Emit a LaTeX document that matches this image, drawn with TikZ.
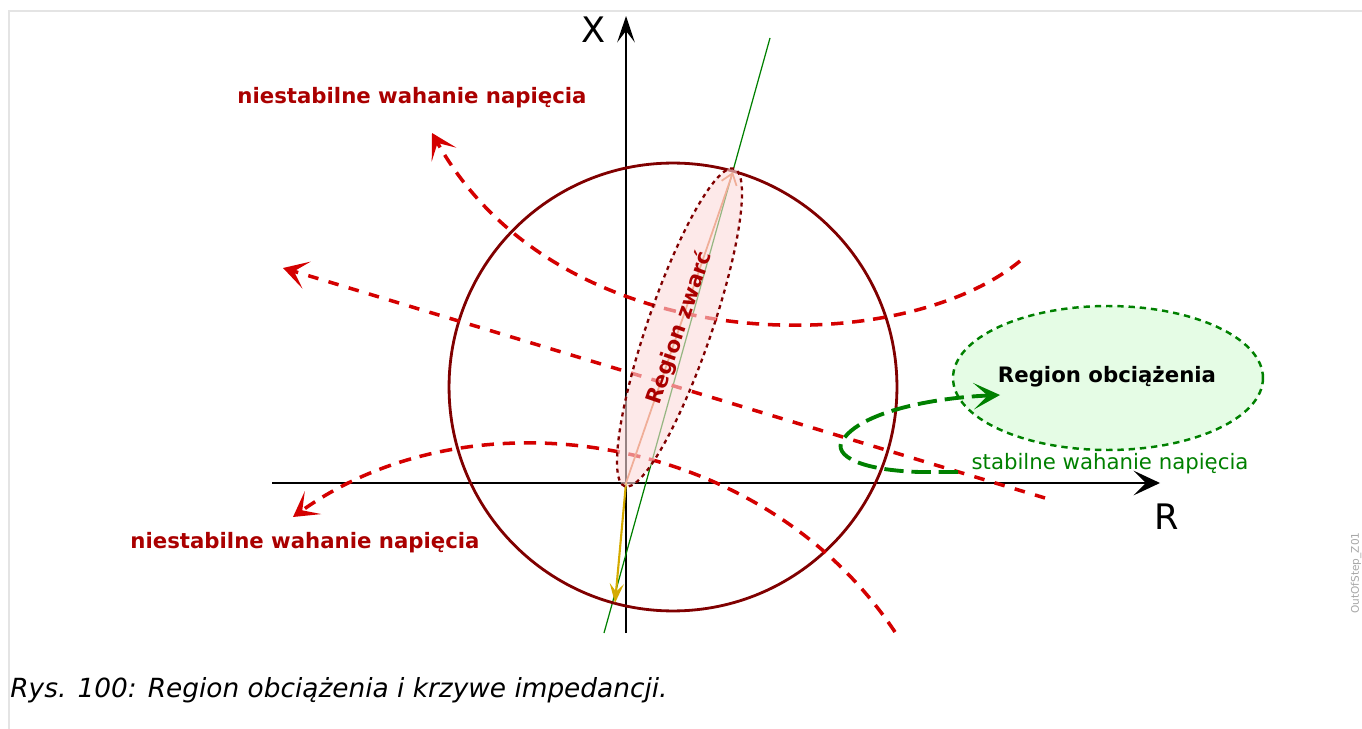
\documentclass[tikz,border=0pt]{standalone}
\usepackage{fontspec}
\setmainfont{DejaVu Sans}
\usetikzlibrary{arrows.meta}

\definecolor{circred}{HTML}{800000}
\definecolor{swingred}{HTML}{D40000}
\definecolor{lblred}{HTML}{AA0000}
\definecolor{loadgreen}{HTML}{008000}
\definecolor{loadfill}{HTML}{E5FCE5}
\definecolor{zwfill}{HTML}{FBDADA}
\definecolor{impgold}{HTML}{D4AA00}
\definecolor{salmon}{HTML}{F0AE98}
\definecolor{framegray}{HTML}{E4E4E4}

\begin{document}
\begin{tikzpicture}[
    x=0.02cm, y=-0.02cm,
    axis/.style={line width=1.3pt, -{Stealth[length=15pt,width=14pt,inset=7pt]}},
    swing/.style={draw=swingred, line width=2pt, dash pattern=on 7pt off 5pt,
        -{Stealth[length=14pt,width=16pt,inset=7.5pt]}},
    lbl/.style={font=\fontsize{12.1}{14}\selectfont\bfseries},
    axlbl/.style={font=\fontsize{20}{24}\selectfont},
    zwarc/.style={draw=circred, line width=1.3pt, dash pattern=on 2.3pt off 2.3pt}
]
    \useasboundingbox (0,0) rectangle (1362,729);

    % ---- frame ----
    \draw[framegray, line width=1.1pt] (9,729) -- (9,11) -- (1362,11);

    % ---- points ----
    \coordinate (O)      at (626,483);
    \coordinate (Xbot)   at (626,633);
    \coordinate (Xtop)   at (626,16);
    \coordinate (Rleft)  at (272,483);
    \coordinate (Rright) at (1160,483);
    \coordinate (Zk)     at (733,172);
    \coordinate (Zsrc)   at (615,603);

    % ---- axes ----
    \draw[axis, -{Stealth[length=15pt,width=10pt,inset=6.5pt]}] (Xbot) -- (Xtop);
    \draw[axis] (Rleft) -- (Rright);
    \node[axlbl] (lblX) at (594,30) {X};
    \node[axlbl] (lblR) at (1167,517) {R};

    % ---- impedance line and circle ----
    \draw[loadgreen, line width=0.7pt] (604,633) -- (770,38);
    \draw[circred, line width=1.6pt] (673,387) circle [radius=4.48cm];

    % ---- unstable swings ----
    \draw[swing] (1020,261) .. controls (900,360) and (560,362) .. (432,133);
    \draw[swing, dash pattern=on 6pt off 6pt] (1045,498) -- (283,268);
    \draw[swing] (895,632) .. controls (760,430) and (470,390) .. (293,517);

    % ---- source impedance ----
    \draw[impgold, line width=1.2pt, -{Stealth[length=11pt,width=8pt,inset=4.5pt]}] (O) -- (Zsrc);

    % ---- short circuit region ----
    \fill[zwfill, fill opacity=0.6] (679.5,327.5) ellipse [x radius=3.36cm, y radius=0.64cm, rotate=71];
    \draw[salmon, line width=1pt, -{Straight Barb[length=6pt,width=9pt]}] (O) -- (Zk);
    \draw[zwarc] (679.5,327.5) ellipse [x radius=3.36cm, y radius=0.64cm, rotate=71];
    \node[lbl, text=lblred, rotate=71] (lblZw) at (680,328) {Region zwarć};

    % ---- load region ----
    \draw[loadgreen, fill=loadfill, line width=1.4pt, dash pattern=on 3.6pt off 2.8pt]
        (1108,378) ellipse [x radius=3.1cm, y radius=1.44cm];
    \node[lbl] (lblLoad) at (1107,377) {Region obciążenia};
    \coordinate (Lin) at (1000,395);
    \draw[loadgreen, line width=2.2pt, dash pattern=on 11pt off 4.5pt,
        -{Stealth[length=15pt,width=15pt,inset=8pt]}]
        (958,472) -- (920,472) .. controls (852,470) and (830,452) .. (845,437)
        .. controls (865,412) and (930,398) .. (Lin);
    \node[font=\fontsize{12.1}{14}\selectfont, text=loadgreen] (lblStable) at (1110,464) {stabilne wahanie napięcia};

    % ---- labels ----
    \node[lbl, text=lblred] (lblTop) at (412,98)  {niestabilne wahanie napięcia};
    \node[lbl, text=lblred] (lblBot) at (305,543) {niestabilne wahanie napięcia};

    % ---- caption ----
    \node[font=\fontsize{15}{18}\selectfont\itshape, anchor=base west, inner sep=0pt] (caption) at (10,697)
        {Rys. 100: Region obciążenia i krzywe impedancji.};
    \node[font=\fontsize{6}{7}\selectfont, text=gray!70, rotate=90] (tag) at (1356,573) {OutOfStep\_Z01};
\end{tikzpicture}
\end{document}
